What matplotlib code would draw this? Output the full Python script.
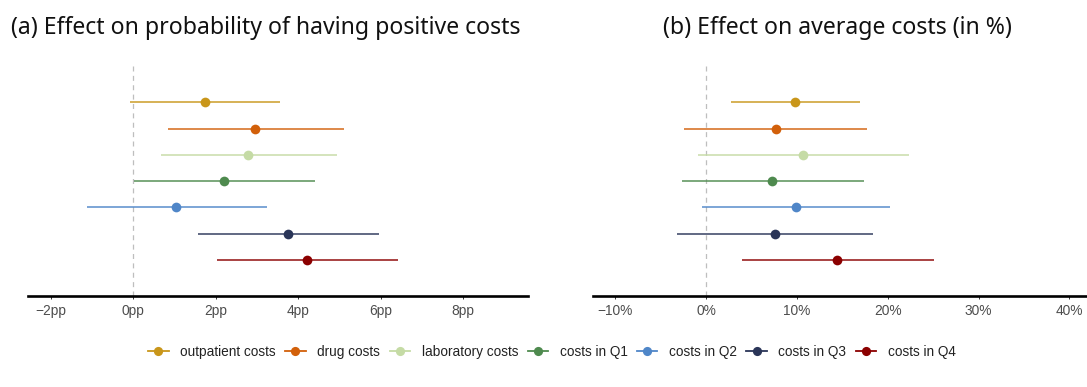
import matplotlib
matplotlib.use("Agg")
import matplotlib.pyplot as plt
from matplotlib.lines import Line2D
from matplotlib.ticker import FuncFormatter

# Outcome categories, top to bottom
categories = ["outpatient costs", "drug costs", "laboratory costs",
              "costs in Q1", "costs in Q2", "costs in Q3", "costs in Q4"]
colors = ["#C9961A", "#D2600A", "#C5DBA5", "#4E8A4E", "#4F86C8", "#2A3558", "#8B0000"]

# (a) Effect on probability of positive costs, percentage points
prob_est = [1.73, 2.95, 2.78, 2.19, 1.04, 3.75, 4.21]
prob_lo = [-0.08, 0.83, 0.68, 0.01, -1.13, 1.58, 2.03]
prob_hi = [3.56, 5.10, 4.93, 4.40, 3.24, 5.95, 6.42]
prob_ticks = [-2, 0, 2, 4, 6, 8]

# (b) Effect on average costs, percent
cost_est = [9.77, 7.66, 10.62, 7.29, 9.88, 7.55, 14.43]
cost_lo = [2.78, -2.41, -0.96, -2.66, -0.44, -3.22, 3.96]
cost_hi = [16.95, 17.76, 22.32, 17.39, 20.24, 18.39, 25.06]
cost_ticks = [-10, 0, 10, 20, 30, 40]

W, H = 1087, 387
fig = plt.figure(figsize=(W / 100, H / 100), dpi=100)


def px_axes(left, top, right, bottom):
    return fig.add_axes([left / W, 1 - bottom / H, (right - left) / W, (bottom - top) / H])


def fmt(suffix):
    def f(v, _):
        s = f"{v:g}"
        return s.replace("-", "\u2212") + suffix
    return FuncFormatter(f)


def panel(ax, est, lo, hi, ticks, xlim, suffix):
    ypos = list(range(1, len(categories) + 1))
    ax.axvline(0, color="#BEBEBE", lw=0.9, dashes=(4, 3.5), zorder=1)
    for y, e, l, h, c in zip(ypos, est, lo, hi, colors):
        ax.hlines(y, l, h, color=c, lw=1.3, alpha=0.8, zorder=2)
        ax.plot([e], [y], "o", color=c, ms=7.0, mec="none", zorder=3)
    ax.set_xlim(*xlim)
    ax.set_ylim(8.37, -0.42)
    ax.set_yticks([])
    ax.set_xticks(ticks)
    ax.xaxis.set_major_formatter(fmt(suffix))
    for s in ["top", "left", "right"]:
        ax.spines[s].set_visible(False)
    ax.spines["bottom"].set_linewidth(1.9)
    ax.spines["bottom"].set_color("black")
    ax.tick_params(axis="x", length=2.5, width=0.7, color="#333333",
                   labelcolor="#4D4D4D", labelsize=9.9, pad=3)
    for t in ax.get_xticklabels():
        t.set_fontfamily("Liberation Sans")
    ax.patch.set_alpha(0)


ax1 = px_axes(28, 65, 528, 296)
panel(ax1, prob_est, prob_lo, prob_hi, prob_ticks, (-2.553, 9.568), "pp")

ax2 = px_axes(593, 65, 1093, 296)
panel(ax2, cost_est, cost_lo, cost_hi, cost_ticks, (-12.47, 42.6), "%")

fig.text(266 / W, 1 - 28 / H, "(a) Effect on probability of having positive costs",
         ha="center", va="center", fontsize=16.6, family="Noto Sans", color="#111111")
fig.text(837 / W, 1 - 28 / H, "(b) Effect on average costs (in %)",
         ha="center", va="center", fontsize=16.6, family="Noto Sans", color="#111111")

handles = [Line2D([], [], color=c, lw=1.3, marker="o", ms=6.6, mec="none")
           for c in colors]
leg = fig.legend(handles, categories, loc="center", ncol=len(categories),
                 bbox_to_anchor=(552 / W, 1 - 352 / H), frameon=False,
                 prop={"family": "Liberation Sans", "size": 9.8},
                 handlelength=1.5, handletextpad=0.85, columnspacing=0.7,
                 borderpad=0, borderaxespad=0)
for t in leg.get_texts():
    t.set_color("#222222")

fig.savefig("out.png", dpi=100)
